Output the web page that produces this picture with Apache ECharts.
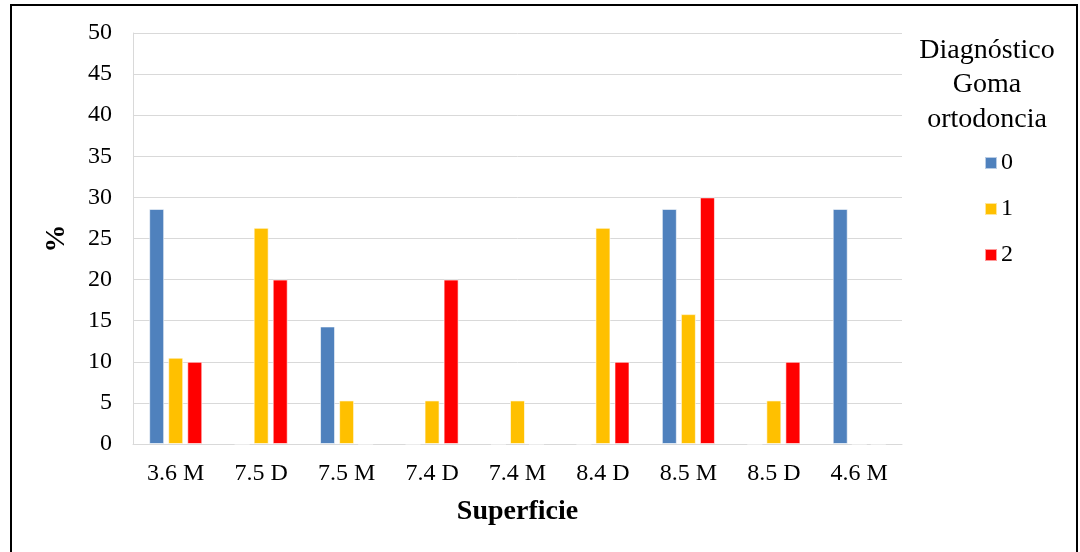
<!DOCTYPE html>
<html>
<head>
<meta charset="utf-8">
<script src="https://cdn.jsdelivr.net/npm/echarts@6/dist/echarts.min.js"></script>
<style>html,body{margin:0;padding:0;background:#fff;}#c{width:1080px;height:552px;}</style>
</head>
<body>
<div id="c"></div>
<script>
var categories = ['3.6 M', '7.5 D', '7.5 M', '7.4 D', '7.4 M', '8.4 D', '8.5 M', '8.5 D', '4.6 M'];
var series0 = [28.6, 0, 14.3, 0, 0, 0, 28.6, 0, 28.6];
var series1 = [10.5, 26.3, 5.3, 5.3, 5.3, 26.3, 15.8, 5.3, 0];
var series2 = [10, 20, 0, 20, 0, 10, 30, 10, 0];
var seriesNames = ['0', '1', '2'];
var legendTitle = 'Diagnóstico\nGoma\nortodoncia';
var colors = ['#4F81BD', '#FFC000', '#FF0000'];
var font = 'Liberation Serif, Times New Roman, serif';

var chart = echarts.init(document.getElementById('c'));
function mk(name, data, color) {
  return {
    name: name, type: 'bar', data: data, barWidth: 15, barGap: '27%',
    itemStyle: { color: color, borderColor: 'rgba(255,255,255,0.6)', borderWidth: 1 }
  };
}
chart.setOption({
  animation: false,
  backgroundColor: '#fff',
  textStyle: { fontFamily: font },
  grid: { left: 133, top: 33, right: 178, bottom: 108, containLabel: false },
  xAxis: {
    type: 'category', data: categories,
    name: 'Superficie', nameLocation: 'middle', nameGap: 54,
    nameTextStyle: { fontFamily: font, fontSize: 28, fontWeight: 'bold', color: '#000' },
    axisLine: { lineStyle: { color: '#d9d9d9', width: 1 } },
    axisTick: { show: false },
    axisLabel: { fontFamily: font, fontSize: 24, color: '#000', margin: 18 }
  },
  yAxis: {
    type: 'value', min: 0, max: 50, interval: 5,
    name: '%', nameLocation: 'middle', nameGap: 62, nameRotate: 90,
    nameTextStyle: { fontFamily: font, fontSize: 28, fontWeight: 'bold', color: '#000' },
    axisLine: { show: true, lineStyle: { color: '#d9d9d9' } },
    axisTick: { show: false },
    splitLine: { lineStyle: { color: '#d9d9d9', width: 1 } },
    axisLabel: { fontFamily: font, fontSize: 24, color: '#000', margin: 21 }
  },
  legend: {
    orient: 'vertical', left: 979, top: 146,
    itemWidth: 12, itemHeight: 12, itemGap: 22, icon: 'rect',
    data: seriesNames,
    textStyle: { fontFamily: font, fontSize: 24, color: '#000', padding: [0, 0, 0, -1] }
  },
  graphic: [
    { type: 'rect', shape: { x: 11, y: 5, width: 1066, height: 560 }, style: { fill: 'none', stroke: '#000', lineWidth: 2 }, silent: true },
    { type: 'text', x: 987, y: 33, style: { text: legendTitle, font: '28px ' + font, fill: '#000', textAlign: 'center', textVerticalAlign: 'top', lineHeight: 34.5 } }
  ],
  series: [
    mk(seriesNames[0], series0, colors[0]),
    mk(seriesNames[1], series1, colors[1]),
    mk(seriesNames[2], series2, colors[2])
  ]
});
</script>
</body>
</html>
